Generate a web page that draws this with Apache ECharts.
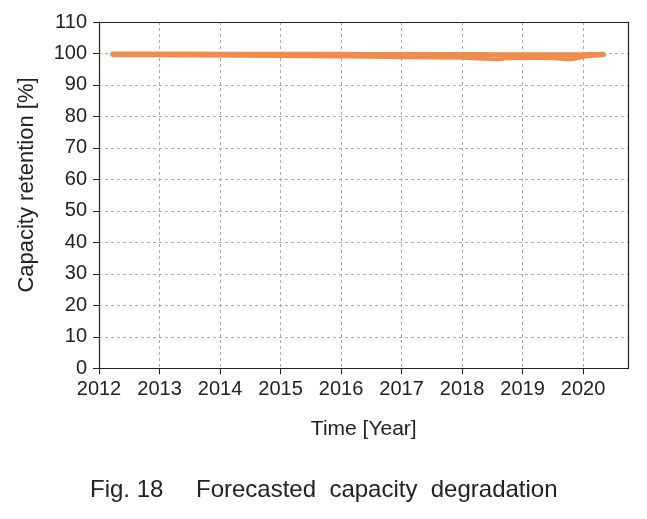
<!DOCTYPE html>
<html><head><meta charset="utf-8">
<script src="https://cdn.jsdelivr.net/npm/echarts@6/dist/echarts.min.js"></script>
<style>html,body{margin:0;padding:0;background:#fff}#c{width:647px;height:519px}</style>
</head><body><div id="c"></div>
<script>
const years      = [2012.23, 2013, 2014, 2015, 2016, 2017, 2018, 2018.6, 2018.72, 2019, 2019.5, 2019.8, 2020.0, 2020.2, 2020.33];
const upperTrace = [99.75, 99.75, 99.7, 99.7, 99.65, 99.6, 99.6, 99.55, 99.55, 99.55, 99.55, 99.55, 99.55, 99.6, 99.7];
const lowerTrace = [99.35, 99.35, 99.25, 99.15, 98.95, 98.75, 98.55, 98.1, 98.4, 98.5, 98.4, 98.1, 98.8, 99.3, 99.6];
const xTicks = ['2012','2013','2014','2015','2016','2017','2018','2019','2020'];
const orange = '#F08B4D';
const font = 'Liberation Sans';
const chart = echarts.init(document.getElementById('c'));
const frame = {show:true,onZero:false,lineStyle:{color:'#222',width:1.2}};
chart.setOption({
  animation:false,
  grid:{left:99,right:18.5,top:22,bottom:150.7},
  xAxis:[{type:'value',min:2012,max:2020.75,interval:1,
    name:'Time [Year]',nameLocation:'middle',nameGap:50,
    nameTextStyle:{fontFamily:font,fontSize:21,color:'#222'},
    axisLine:frame,
    axisTick:{show:true,inside:false,length:6,lineStyle:{color:'#222'}},
    axisLabel:{fontFamily:font,fontSize:20,color:'#222',margin:11,showMaxLabel:false,
      formatter:v=>{const i=Math.round(v-2012);return (Math.abs(v-2012-i)<1e-6&&xTicks[i])?xTicks[i]:'';}},
    splitLine:{show:true,showMaxLine:false,lineStyle:{color:'#aaa',type:[3,3],width:1}}},
    {type:'value',position:'top',min:2012,max:2020.75,interval:1,axisLine:frame,axisTick:{show:false},axisLabel:{show:false},splitLine:{show:false}}],
  yAxis:[{type:'value',min:0,max:110,interval:10,
    axisLine:frame,
    axisTick:{show:true,inside:false,length:6,lineStyle:{color:'#222'}},
    axisLabel:{fontFamily:font,fontSize:20,color:'#222',margin:12},
    splitLine:{show:true,showMaxLine:false,lineStyle:{color:'#aaa',type:[3,3],width:1}}},
    {type:'value',position:'right',min:0,max:110,interval:10,axisLine:frame,axisTick:{show:false},axisLabel:{show:false},splitLine:{show:false}}],
  series:[
    {type:'line',data:years.map((y,i)=>[y,lowerTrace[i]]),showSymbol:false,smooth:0.2,
      lineStyle:{color:orange,width:3.5,cap:'round'}},
    {type:'line',data:years.map((y,i)=>[y,upperTrace[i]]),showSymbol:false,smooth:0.2,
      lineStyle:{color:orange,width:5.5,cap:'round'}}
  ],
  graphic:[
    {type:'text',x:27,y:185,rotation:Math.PI/2,style:{text:'Capacity retention [%]',fontFamily:font,fontSize:22,fill:'#222',align:'center',verticalAlign:'middle'}},
    {type:'text',left:90,top:478,style:{text:'Fig. 18',fontFamily:font,fontSize:24,fill:'#222'}},
    {type:'text',left:196,top:478,style:{text:'Forecasted  capacity  degradation',fontFamily:font,fontSize:24,fill:'#222'}}
  ]
});
</script></body></html>
